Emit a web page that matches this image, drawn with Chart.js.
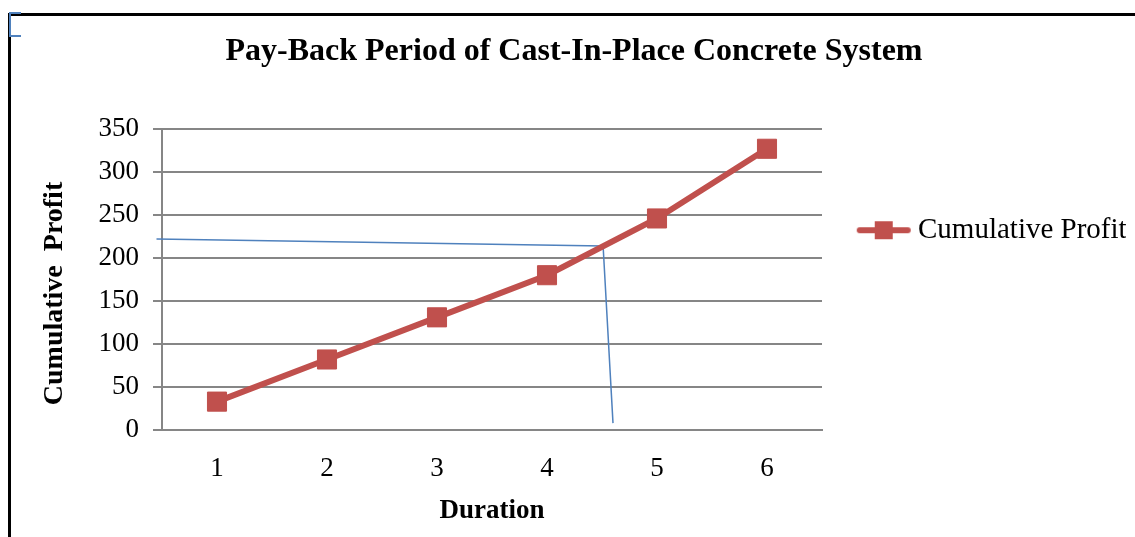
<!DOCTYPE html>
<html>
<head>
<meta charset="utf-8">
<script src="https://cdn.jsdelivr.net/npm/chart.js@4.4.1/dist/chart.umd.min.js"></script>
<style>
  html, body { margin: 0; padding: 0; background: #fff; overflow: hidden; }
  #wrap { position: relative; width: 1135px; height: 537px; }
  #c { position: absolute; left: 0; top: 0; }
  .frameTop { position: absolute; left: 8px; top: 13px; width: 1127px; height: 3px; background: #000; }
  .frameLeft { position: absolute; left: 8px; top: 13px; width: 3px; height: 524px; background: #000; }
  .bracket { position: absolute; left: 9px; top: 12px; width: 10px; height: 21px; border: 2px solid #4F81BD; border-right: none; }
</style>
</head>
<body>
<div id="wrap">
  <canvas id="c" width="1135" height="537"></canvas>
  <div class="frameTop"></div>
  <div class="frameLeft"></div>
  <div class="bracket"></div>
</div>
<script>
const chartTitle = 'Pay-Back Period of Cast-In-Place Concrete System  ';
const xAxisTitle = 'Duration';
const yAxisTitle = 'Cumulative  Profit    ';
const seriesName = 'Cumulative Profit';
const categories = ['1', '2', '3', '4', '5', '6'];
const cumulativeProfit = [33, 82, 131, 180, 246, 327];
const yTicks = [0, 50, 100, 150, 200, 250, 300, 350];
// hand-drawn pay-back guide line (x in category units, y in profit units)
const guideX = [0.45, 4.51, 4.6];
const guideY = [222, 214, 8];

const RED = '#C0504D';
const BLUE = '#4F81BD';
const GRID = '#868686';
const SERIF = "'Liberation Serif', 'Times New Roman', serif";
const LEGEND_WIDTH = 304;

// legend marker: line with square, drawn into a small canvas
function makeLegendMarker() {
  const cv = document.createElement('canvas');
  cv.width = 100; cv.height = 22;
  const g = cv.getContext('2d');
  g.strokeStyle = RED; g.lineWidth = 6; g.lineCap = 'round';
  g.beginPath(); g.moveTo(47, 11); g.lineTo(95, 11); g.stroke();
  g.fillStyle = RED;
  g.fillRect(62, 2, 18, 18);
  return cv;
}
const marker = makeLegendMarker();

const guideData = guideX.map((x, i) => ({ x: x, y: guideY[i] }));

// let the right-hand legend be wider than Chart.js' default quarter-width cap
const legendWidthPlugin = {
  id: 'legendWidth',
  beforeLayout(chart) {
    const lg = chart.legend;
    if (lg && !lg._wideFit) {
      const orig = lg.fit;
      lg.fit = function () { orig.call(this); this.width = LEGEND_WIDTH; };
      lg._wideFit = true;
    }
  }
};

new Chart(document.getElementById('c'), {
  type: 'line',
  data: {
    labels: categories,
    datasets: [
      {
        label: seriesName,
        data: cumulativeProfit,
        borderColor: RED,
        backgroundColor: RED,
        borderWidth: 6,
        pointStyle: 'rect',
        pointRadius: 13.5,
        pointHoverRadius: 13.5,
        pointBorderWidth: 1,
        pointBorderColor: RED,
        pointBackgroundColor: RED,
        tension: 0,
        xAxisID: 'x',
        yAxisID: 'y'
      },
      {
        label: 'guide',
        data: guideData,
        borderColor: BLUE,
        backgroundColor: BLUE,
        borderWidth: 1.5,
        pointRadius: 0,
        tension: 0,
        clip: false,
        xAxisID: 'x2',
        yAxisID: 'y'
      }
    ]
  },
  plugins: [legendWidthPlugin],
  options: {
    responsive: false,
    animation: false,
    events: [],
    layout: { padding: { left: 38, top: 16, right: 9, bottom: 0 } },
    plugins: {
      title: {
        display: true,
        text: chartTitle,
        color: '#000',
        font: { family: SERIF, size: 32, weight: 'bold' },
        padding: { top: 17, bottom: 57.6 }
      },
      legend: {
        display: true,
        position: 'right',
        align: 'start',
        fullSize: false,
        title: { display: true, text: ' ', font: { size: 1 }, padding: { top: 85.5, bottom: 0 } },
        labels: {
          usePointStyle: true,
          pointStyle: marker,
          pointStyleWidth: 81.5,
          padding: 0,
          color: '#000',
          font: { family: SERIF, size: 29 },
          filter: (item) => item.datasetIndex === 0
        }
      },
      tooltip: { enabled: false }
    },
    scales: {
      x: {
        type: 'category',
        offset: true,
        grid: { display: false, drawTicks: false },
        border: { display: true, color: GRID, width: 2 },
        ticks: { color: '#000', font: { family: SERIF, size: 27 }, padding: 23 },
        title: { display: true, text: xAxisTitle, color: '#000', font: { family: SERIF, size: 27, weight: 'bold' }, padding: { top: 0, bottom: 10 } },
        afterFit: (s) => { s.height = 107; }
      },
      x2: {
        type: 'linear',
        display: false,
        min: 0.5,
        max: 6.5
      },
      y: {
        min: 0,
        max: 350,
        afterBuildTicks: (s) => { s.ticks = yTicks.map(v => ({ value: v })); },
        grid: { color: GRID, lineWidth: 2, tickLength: 9, drawTicks: true },
        border: { display: true, color: GRID, width: 2 },
        ticks: { color: '#000', font: { family: SERIF, size: 27 }, padding: 14 },
        title: { display: true, text: yAxisTitle, color: '#000', font: { family: SERIF, size: 28, weight: 'bold' }, padding: 0 },
        afterFit: (s) => { s.width = 162 - 38; }
      }
    }
  }
});
</script>
</body>
</html>
